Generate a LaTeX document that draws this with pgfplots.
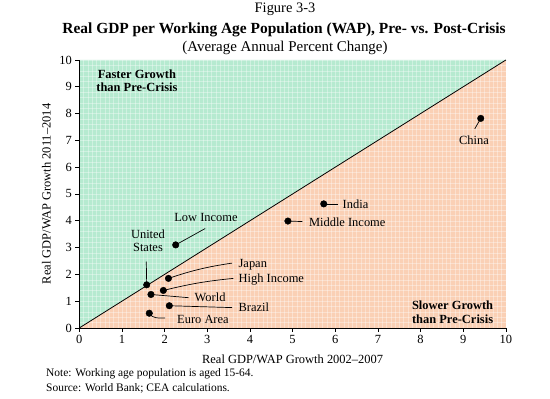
\documentclass[border=0pt]{standalone}
\usepackage{fontspec}
\setmainfont{Liberation Serif}
\usepackage{pgfplots}
\pgfplotsset{compat=1.18}
\definecolor{fastg}{HTML}{B6EAD0}
\definecolor{slowp}{HTML}{FAD0B5}
\newcommand{\ft}[1]{\fontsize{#1}{#1}\selectfont}
\begin{document}
\begin{tikzpicture}
\begin{axis}[name=ax, scale only axis, width=426.6bp, height=268bp,
  set layers,
  xmin=0, xmax=10, ymin=0, ymax=10,
  axis x line=bottom, axis y line=left,
  axis line style={-, black, line width=0.8pt},
  xtick={0,...,10}, ytick={0,...,10},
  tick align=outside, major tick length=4bp, minor tick length=0pt,
  tick style={black, line width=0.8pt},
  minor x tick num=9, minor y tick num=4,
  grid=both,
  major grid style={white, opacity=0.35, line width=0.3pt},
  minor grid style={white, opacity=0.35, line width=0.3pt},
  clip=false,
  tick label style={font=\ft{12.5}},
  /pgf/number format/assume math mode=true,
  xlabel={Real GDP/WAP Growth 2002--2007},
  ylabel={Real GDP/WAP Growth 2011--2014},
  label style={font=\ft{12.5}},
  xlabel style={at={(axis description cs:0.5,-0.118)}, anchor=center},
  ylabel style={at={(axis description cs:-0.0774,0.5)}, anchor=center},
]
\addplot[draw=none, fill=fastg, on layer=axis background] coordinates {(0,0) (0,10) (10,10) (0,0)};
\addplot[draw=none, fill=slowp, on layer=axis background] coordinates {(0,0) (10,0) (10,10) (0,0)};
\addplot[black, line width=0.8pt] coordinates {(0,0) (10,10)};

% connector lines
\draw[black, line width=0.7pt] (axis cs:2.26,3.10) -- (axis cs:2.95,3.71);
\draw[black, line width=0.7pt] (axis cs:1.58,1.61) -- (axis cs:1.57,2.48);
\draw[black, line width=0.7pt] (axis cs:2.09,1.85) to[bend left=5] (axis cs:3.58,2.42);
\draw[black, line width=0.7pt] (axis cs:1.97,1.40) to[bend left=4] (axis cs:3.61,1.85);
\draw[black, line width=0.7pt] (axis cs:1.68,1.25) -- (axis cs:2.56,1.13);
\draw[black, line width=0.7pt] (axis cs:2.11,0.83) -- (axis cs:3.58,0.76);
\draw[black, line width=0.7pt] (axis cs:1.64,0.55) to[out=-60,in=180] (axis cs:2.01,0.37);
\draw[black, line width=0.7pt] (axis cs:5.73,4.63) -- (axis cs:6.06,4.63);
\draw[black, line width=0.7pt] (axis cs:4.89,3.99) -- (axis cs:5.23,3.97);
\draw[black, line width=0.7pt] (axis cs:9.41,7.82) -- (axis cs:9.27,7.43);

\addplot[only marks, mark=*, mark size=3.3pt, black] table {
x y
9.41 7.82
5.73 4.63
4.89 3.99
2.26 3.10
1.58 1.61
2.09 1.85
1.97 1.40
1.68 1.25
2.11 0.83
1.64 0.55
};

\begin{scope}[font=\ft{12.5}]
\node[align=center] at (axis cs:2.97,4.12) {Low Income};
\node[align=center, inner sep=0pt] at (axis cs:1.61,3.26) {United\\[1pt]States};
\node[anchor=west, inner sep=0pt] at (axis cs:3.73,2.36) {Japan};
\node[anchor=west, inner sep=0pt] at (axis cs:3.73,1.80) {High Income};
\node[anchor=west, inner sep=0pt] at (axis cs:2.70,1.14) {World};
\node[anchor=west, inner sep=0pt] at (axis cs:3.73,0.78) {Brazil};
\node[anchor=west, inner sep=0pt] at (axis cs:2.29,0.33) {Euro Area};
\node[anchor=west, inner sep=0pt] at (axis cs:6.17,4.62) {India};
\node[anchor=west, inner sep=0pt] at (axis cs:5.38,3.94) {Middle Income};
\node[inner sep=0pt] at (axis cs:9.25,7.02) {China};
\node[align=center, inner sep=0pt, font=\ft{12.5}\bfseries] at (axis cs:1.35,9.23) {Faster Growth\\[1pt]than Pre-Crisis};
\node[align=center, inner sep=0pt, font=\ft{12.5}\bfseries] at (axis cs:8.75,0.58) {Slower Growth\\[1pt]than Pre-Crisis};
\end{scope}
\end{axis}

\begin{scope}[shift={(ax.south west)}, xshift=-79.3bp, yshift=327.3bp, x=1bp, y=-1bp]
\path (0,0) rectangle (550,398);
\node[font=\ft{14.5}] at (285,9) {Figure 3-3};
\node[font=\ft{15.5}\bfseries] at (284,29) {Real GDP per Working Age Population (WAP), Pre- vs. Post-Crisis};
\node[font=\ft{15}] at (285,47) {(Average Annual Percent Change)};
\node[font=\ft{11.5}, anchor=west, inner sep=0pt] at (46,373) {Note: Working age population is aged 15-64.};
\node[font=\ft{11.5}, anchor=west, inner sep=0pt] at (46,388) {Source: World Bank; CEA calculations.};
\end{scope}
\end{tikzpicture}
\end{document}
